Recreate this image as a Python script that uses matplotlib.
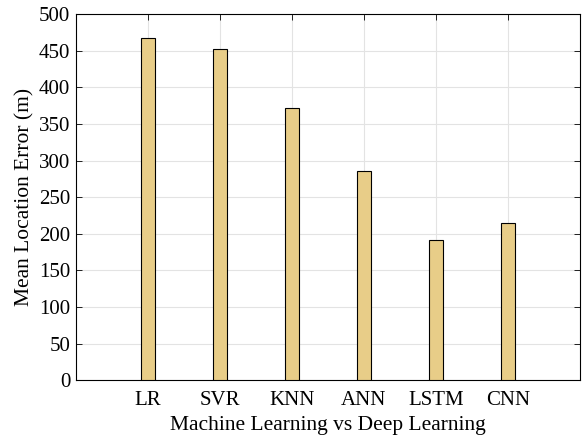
import matplotlib
matplotlib.use("Agg")
import matplotlib.pyplot as plt
import numpy as np

# data
methods = ["LR", "SVR", "KNN", "ANN", "LSTM", "CNN"]
errors = [468, 452, 372, 285, 191, 215]

plt.rcParams['font.family'] = ['Liberation Serif', 'DejaVu Serif']

fig = plt.figure(figsize=(5.84, 4.4), dpi=100)
ax = fig.add_axes([0.130, 0.136, 0.863, 0.832])

x = np.arange(1, len(methods) + 1)
ax.bar(x, errors, width=0.2, color='#E8CD88', edgecolor='black', linewidth=0.8, zorder=3)

ax.set_xlim(0, 7)
ax.set_ylim(0, 500)
ax.set_xticks(x)
ax.set_xticklabels(methods)
ax.set_yticks(np.arange(0, 501, 50))
ax.grid(True, color='#e3e3e3', linewidth=0.8, zorder=0)
ax.tick_params(direction='in', top=True, right=True, length=4, width=0.6, labelsize=15)
ax.tick_params(axis='x', pad=8)
ax.tick_params(axis='y', pad=4)
for s in ax.spines.values():
    s.set_linewidth(0.8)

ax.set_xlabel('Machine Learning vs Deep Learning', fontsize=15.5, labelpad=4)
ax.set_ylabel('Mean Location Error (m)', fontsize=15.5, labelpad=3)

fig.savefig('out.png', dpi=100)
